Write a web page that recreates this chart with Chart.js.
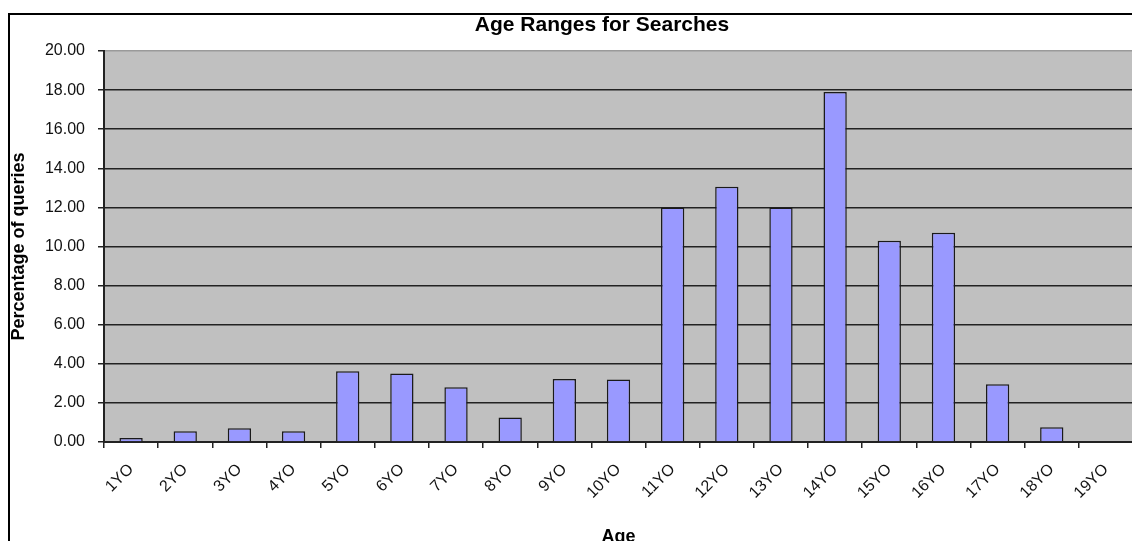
<!DOCTYPE html>
<html>
<head>
<meta charset="utf-8">
<script src="https://cdn.jsdelivr.net/npm/chart.js@4.4.1/dist/chart.umd.min.js"></script>
<style>
  html, body { margin: 0; padding: 0; background: #fff; overflow: hidden; }
  #wrap { position: absolute; left: 0; top: 0; width: 1140px; height: 560px; }
</style>
</head>
<body>
<div id="wrap"><canvas id="ageChart"></canvas></div>
<script>
// Values
const ageLabels = ['1YO', '2YO', '3YO', '4YO', '5YO', '6YO', '7YO', '8YO', '9YO', '10YO',
    '11YO', '12YO', '13YO', '14YO', '15YO', '16YO', '17YO', '18YO', '19YO'];
const queryPct = [0.2, 0.55, 0.7, 0.55, 3.62, 3.5, 2.8, 1.25, 3.22, 3.2,
    12.0, 13.05, 12.0, 17.9, 10.3, 10.7, 2.95, 0.75, 0];
const yMin = 0, yMax = 20, yStep = 2;

const chartTitle = 'Age Ranges for Searches';

// gray plot background, outer frame and centred title (Excel-style)
const excelLook = {
    id: 'excelLook',
    beforeDraw(chart) {
        const { ctx, chartArea: a } = chart;
        ctx.save();
        ctx.fillStyle = '#c0c0c0';
        ctx.fillRect(a.left, a.top, a.right - a.left, a.bottom - a.top);
        ctx.restore();
    },
    afterDraw(chart) {
        const ctx = chart.ctx;
        ctx.save();
        ctx.strokeStyle = '#000';
        ctx.lineWidth = 2;
        ctx.strokeRect(9, 14, 1400, 700);
        ctx.fillStyle = '#000';
        ctx.font = "bold 21px 'Liberation Sans', Arial, sans-serif";
        ctx.textAlign = 'center';
        ctx.textBaseline = 'middle';
        ctx.fillText(chartTitle, 602, 25);
        ctx.restore();
    }
};

const ctx = document.getElementById('ageChart').getContext('2d');
new Chart(ctx, {
    type: 'bar',
    data: {
        labels: ageLabels,
        datasets: [{
            label: 'Percentage of queries',
            data: queryPct,
            backgroundColor: '#9999ff',
            borderColor: '#1a1a1a',
            borderWidth: 1.5,
            barPercentage: 0.43,
            categoryPercentage: 1
        }]
    },
    options: {
        responsive: true,
        maintainAspectRatio: false,
        animation: false,
        layout: { padding: { left: 0, top: 51, right: 7, bottom: 0 } },
        plugins: {
            legend: { display: false },
            tooltip: { enabled: false }
        },
        scales: {
            x: {
                offset: true,
                afterFit: (scale) => { scale.height = 118; },
                grid: {
                    offset: true,
                    drawOnChartArea: false,
                    color: '#222',
                    lineWidth: 1.5,
                    tickLength: 6
                },
                border: { color: '#222', width: 2 },
                ticks: {
                    minRotation: 45,
                    maxRotation: 45,
                    autoSkip: false,
                    padding: 12,
                    color: '#111',
                    font: { family: "'Liberation Sans', Arial, sans-serif", size: 16 }
                },
                title: {
                    display: true,
                    text: 'Age',
                    color: '#000',
                    padding: { top: 0, bottom: 12 },
                    font: { family: "'Liberation Sans', Arial, sans-serif", size: 18, weight: 'bold' }
                }
            },
            y: {
                min: yMin,
                max: yMax,
                afterFit: (scale) => { scale.width = 104; },
                grid: {
                    color: (c) => c.tick && c.tick.value === yMax ? '#9a9a9a' : '#222',
                    tickColor: '#222',
                    tickLength: 6,
                    lineWidth: 1.5
                },
                border: { color: '#222', width: 2 },
                ticks: {
                    stepSize: yStep,
                    padding: 13,
                    color: '#111',
                    font: { family: "'Liberation Sans', Arial, sans-serif", size: 16 },
                    callback: (v) => Number(v).toFixed(2)
                },
                title: {
                    display: true,
                    text: 'Percentage of queries',
                    color: '#000',
                    padding: { top: 8, bottom: 0 },
                    font: { family: "'Liberation Sans', Arial, sans-serif", size: 18, weight: 'bold' }
                }
            }
        }
    },
    plugins: [excelLook]
});
</script>
</body>
</html>
